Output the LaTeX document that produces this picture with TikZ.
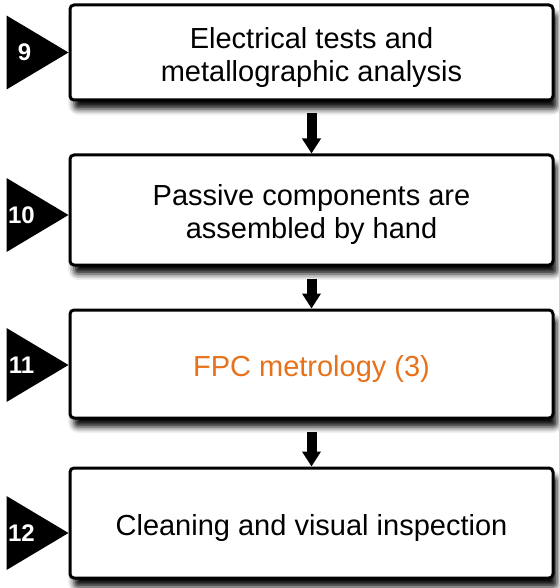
\documentclass[tikz,border=0pt]{standalone}
\usepackage{fontspec}
\setmainfont{Liberation Sans}
\usepackage{tikz}
\usetikzlibrary{arrows.meta,shadows.blur,positioning}

\definecolor{fpcorange}{RGB}{232,114,28}

\tikzset{
  stepbox/.style={draw=black,line width=3pt,rounded corners=4pt,fill=white,
    minimum width=483pt,
    blur shadow={shadow xshift=4pt,shadow yshift=-9pt,shadow blur radius=6pt,
      shadow opacity=95}},
  steptext/.style={align=center,font=\fontsize{29}{33}\selectfont},
  stepnum/.style={text=white,font=\fontsize{24}{24}\selectfont\bfseries},
  flow/.style={line width=10pt,-{Triangle[width=18pt,length=15pt]}}
}

\begin{document}
\begin{tikzpicture}[x=1pt,y=-1pt]
  \useasboundingbox (0,0) rectangle (558,588);

  \node[stepbox,minimum height=95pt] (b9) at (311.5,52.5) {};
  \node[stepbox,minimum height=110pt] (b10) at (311.5,210) {};
  \node[stepbox,minimum height=108pt] (b11) at (311.5,364) {};
  \node[stepbox,minimum height=110pt] (b12) at (311.5,523) {};

  \node[steptext] (t9) at ([yshift=-5pt]b9.center)
    {Electrical tests and\\metallographic analysis};
  \node[steptext] (t10) at ([yshift=-5pt]b10.center)
    {Passive components are\\assembled by hand};
  \node[steptext,text=fpcorange] (t11) at ([yshift=-5pt]b11.center)
    {FPC metrology (3)};
  \node[steptext] (t12) at ([yshift=-5pt]b12.center)
    {Cleaning and visual inspection};

  % step markers
  \foreach \b/\d in {b9/0,b10/5,b11/1,b12/10}{
    \fill ([yshift=-\d pt]\b.west) -- ++(-62,-37) -- ++(0,74) -- cycle;
  }
  \node[stepnum] (n9) at ([xshift=-44pt]b9.west) {9};
  \node[stepnum] (n10) at ([xshift=-47pt,yshift=-5pt]b10.west) {10};
  \node[stepnum] (n11) at ([xshift=-47pt,yshift=-1pt]b11.west) {11};
  \node[stepnum] (n12) at ([xshift=-47pt,yshift=-10pt]b12.west) {12};

  \draw[flow] ([yshift=-12pt]b9.south) -- (b10.north);
  \draw[flow] ([yshift=-12pt]b10.south) -- (b11.north);
  \draw[flow] ([yshift=-12pt]b11.south) -- (b12.north);
\end{tikzpicture}
\end{document}
